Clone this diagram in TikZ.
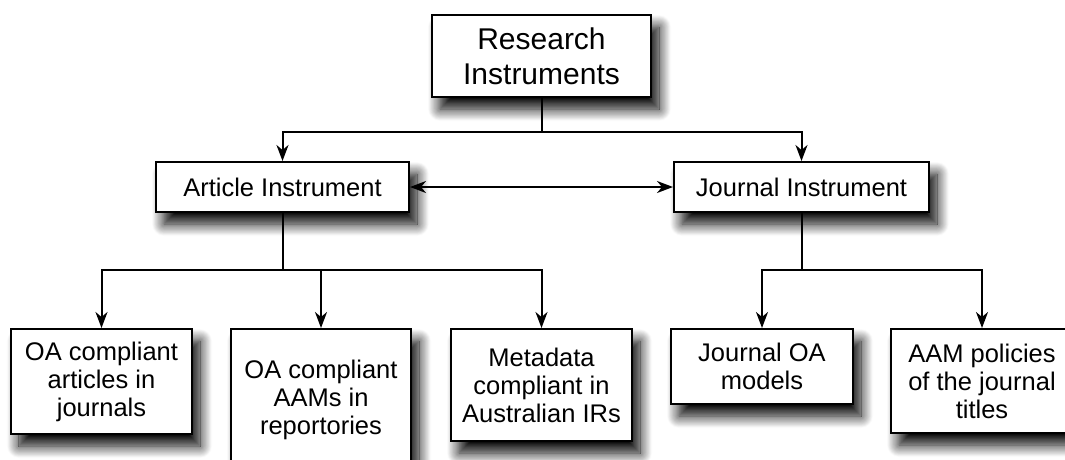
\documentclass[tikz,border=0pt]{standalone}
\usepackage{fontspec}
\setmainfont{Liberation Sans}
\usetikzlibrary{arrows.meta,shadows.blur}

\tikzset{
  box/.style={draw=black, line width=2pt, fill=white, align=center,
    inner sep=0pt, font=\fontsize{25.5}{28}\selectfont,
    blur shadow={shadow xshift=8pt, shadow yshift=-12pt,
      shadow blur radius=12pt, shadow opacity=100, shadow blur steps=16}},
  rootbox/.style={box, font=\fontsize{30}{35}\selectfont},
  tip/.tip={Stealth[length=16pt, width=12pt, inset=5pt]},
  conn/.style={line width=2pt, -tip},
  both/.style={line width=2pt, tip-tip},
}

\begin{document}
\begin{tikzpicture}[x=1pt, y=-1pt]
  \useasboundingbox (0,0) rectangle (1065,459);
  \clip (0,0) rectangle (1065,459);

  % top level
  \node[rootbox, minimum width=219pt, minimum height=82pt] (root) at (541.5,56)
    {Research\\Instruments};

  % second level
  \node[box, minimum width=253pt, minimum height=50pt] (article) at (282.5,187)
    {Article Instrument};
  \node[box, minimum width=255pt, minimum height=50pt] (journal) at (801.5,187)
    {Journal Instrument};

  % third level
  \node[box, minimum width=181pt, minimum height=105pt] (oaart) at (101.5,381.5)
    {OA compliant\\articles in\\journals};
  \node[box, minimum width=180pt, minimum height=142pt] (oaaam) at (321,400)
    {OA compliant\\AAMs in\\reportories};
  \node[box, minimum width=181pt, minimum height=112pt] (meta) at (541.5,385)
    {Metadata\\compliant in\\Australian IRs};
  \node[box, minimum width=182pt, minimum height=75pt] (jmodels) at (762,366.5)
    {Journal OA\\models};
  \node[box, minimum width=182pt, minimum height=104pt] (aampol) at (982,381)
    {AAM policies\\of the journal\\titles};

  % connectors
  \draw[conn] (root.south) -- ++(0,34) -| (article.north);
  \draw[conn] (root.south) -- ++(0,34) -| (journal.north);
  \draw[both] (article.east) -- (journal.west);

  \draw[conn] (article.south) -- ++(0,57) -| (oaart.north);
  \draw[conn] (article.south) -- ++(0,57) -| (oaaam.north);
  \draw[conn] (article.south) -- ++(0,57) -| (meta.north);

  \draw[conn] (journal.south) -- ++(0,57) -| (jmodels.north);
  \draw[conn] (journal.south) -- ++(0,57) -| (aampol.north);
\end{tikzpicture}
\end{document}
